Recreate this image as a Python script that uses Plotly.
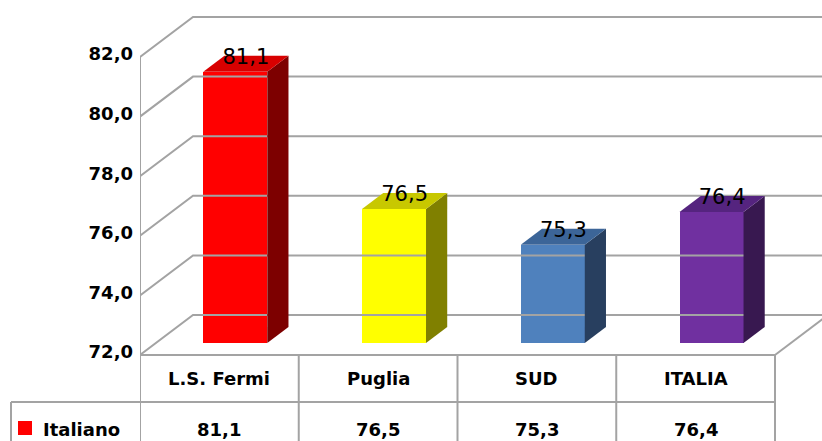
import plotly.graph_objects as go

# ---------------- data ----------------
categories = ["L.S. Fermi", "Puglia", "SUD", "ITALIA"]
values = [81.1, 76.5, 75.3, 76.4]
series_name = "Italiano"
tick_values = [72, 74, 76, 78, 80, 82]
tick_labels = ["72,0", "74,0", "76,0", "78,0", "80,0", "82,0"]

# ---------------- styles ----------------
front_colors = ["#ff0000", "#ffff00", "#4f81bd", "#7030a0"]
side_colors = ["#7d0000", "#808000", "#283f5f", "#381850"]
top_colors = ["#d80000", "#c8c800", "#3c6598", "#55247f"]
grid_color = "#a3a3a3"

W, H = 822, 441
PX_X = 158.75                 # pixels per category
PX_Y = 29.8                   # pixels per value unit
X_LEFT_PX = 140               # front-left wall edge
Y_BASE_PX = 355               # floor front edge
BASE = tick_values[0]
DX = 53 / PX_X                # depth vector (x units)
DY = 40 / PX_Y                # depth vector (value units)
D0, D1 = 0.3, 0.7             # bar depth start / end
BAR_W = 64 / PX_X


def fmt(v):
    return f"{v:.1f}".replace(".", ",")


def ydata(p):  # pixel row -> value units
    return BASE + (Y_BASE_PX - p) / PX_Y


def xpaper(p):
    return p / W


x_min = -0.5
x_max = -0.5 + (W - X_LEFT_PX) / PX_X
y_min = ydata(H)
y_max = ydata(0)
n = len(categories)

fig = go.Figure()

# back wall + left wall gridlines, floor edges
gx, gy = [], []
for v in tick_values:
    gx += [x_min, x_min + DX, x_max + 1, None]
    gy += [v, v + DY, v + DY, None]
gx += [x_min, x_min, None, n - 0.5, n - 0.5 + DX, None]
gy += [BASE, tick_values[-1], None, BASE, BASE + DY, None]
fig.add_trace(go.Scatter(x=gx, y=gy, mode="lines",
                         line=dict(color=grid_color, width=2),
                         hoverinfo="skip", showlegend=False))

# bars: front faces
xc = [i + D0 * DX for i in range(n)]
fig.add_trace(go.Bar(x=xc, y=[v - BASE for v in values], base=BASE + D0 * DY,
                     width=BAR_W, marker=dict(color=front_colors, line=dict(width=0)),
                     name=series_name, showlegend=False))

# side and top faces
sdx = (D1 - D0) * DX
sdy = (D1 - D0) * DY
for i, v in enumerate(values):
    xl = xc[i] - BAR_W / 2
    xr = xc[i] + BAR_W / 2
    y0 = BASE + D0 * DY
    y1 = v + D0 * DY
    fig.add_trace(go.Scatter(x=[xr, xr + sdx, xr + sdx, xr, xr],
                             y=[y0, y0 + sdy, y1 + sdy, y1, y0],
                             mode="lines", fill="toself", fillcolor=side_colors[i],
                             line=dict(width=0, color=side_colors[i]),
                             hoverinfo="skip", showlegend=False))
    fig.add_trace(go.Scatter(x=[xl, xr, xr + sdx, xl + sdx, xl],
                             y=[y1, y1, y1 + sdy, y1 + sdy, y1],
                             mode="lines", fill="toself", fillcolor=top_colors[i],
                             line=dict(width=0, color=top_colors[i]),
                             hoverinfo="skip", showlegend=False))

# value labels above bars
fig.add_trace(go.Scatter(x=[c + sdx / 2 for c in xc],
                         y=[v + D0 * DY + 13 / PX_Y for v in values],
                         mode="text", text=[fmt(v) for v in values],
                         textposition="middle center",
                         textfont=dict(family="DejaVu Sans", size=21, color="#000000"),
                         hoverinfo="skip", showlegend=False, cliponaxis=False))

# ---------------- data table ----------------
shapes = []
lc = dict(color=grid_color, width=2)
row1_bottom = ydata(402)
for k in range(n + 1):
    shapes.append(dict(type="line", xref="x", yref="y", x0=k - 0.5, x1=k - 0.5,
                       y0=BASE, y1=y_min - 1, line=lc))
shapes.append(dict(type="line", xref="x", yref="y", x0=x_min, x1=n - 0.5,
                   y0=BASE, y1=BASE, line=lc))
shapes.append(dict(type="line", xref="x", yref="y", x0=x_min, x1=n - 0.5,
                   y0=row1_bottom, y1=row1_bottom, line=lc))
shapes.append(dict(type="line", xref="paper", yref="y", x0=xpaper(11), x1=xpaper(X_LEFT_PX),
                   y0=row1_bottom, y1=row1_bottom, line=lc))
shapes.append(dict(type="line", xref="paper", yref="y", x0=xpaper(11), x1=xpaper(11),
                   y0=row1_bottom, y1=y_min - 1, line=lc))
shapes.append(dict(type="rect", xref="paper", yref="y",
                   x0=xpaper(18), x1=xpaper(32), y0=ydata(435), y1=ydata(421),
                   fillcolor=front_colors[0], line=dict(width=0)))

bold = dict(family="DejaVu Sans", size=18, color="#000000", weight="bold")
annotations = []
for i, c in enumerate(categories):
    annotations.append(dict(x=i, y=ydata(378), xref="x", yref="y", text=c,
                            showarrow=False, font=bold, xanchor="center", yanchor="middle"))
    annotations.append(dict(x=i, y=ydata(429), xref="x", yref="y", text=fmt(values[i]),
                            showarrow=False, font=bold, xanchor="center", yanchor="middle"))
annotations.append(dict(x=xpaper(41), y=ydata(429), xref="paper", yref="y", text=series_name,
                        showarrow=False, font=bold, xanchor="left", yanchor="middle"))

fig.update_layout(
    width=W, height=H,
    margin=dict(l=0, r=0, t=0, b=0),
    paper_bgcolor="#ffffff", plot_bgcolor="#ffffff",
    shapes=shapes, annotations=annotations,
    showlegend=False, bargap=0,
    xaxis=dict(domain=[X_LEFT_PX / W, 1], range=[x_min, x_max],
               showgrid=False, zeroline=False, showticklabels=False,
               showline=False, fixedrange=True, automargin=False),
    yaxis=dict(domain=[0, 1], range=[y_min, y_max],
               tickvals=tick_values, ticktext=tick_labels,
               tickfont=dict(family="DejaVu Sans", size=18, color="#000000", weight="bold"),
               ticks="", ticklabelstandoff=6, ticklabelshift=-3, automargin=False,
               showgrid=False, zeroline=False, showline=False, fixedrange=True),
)

fig.write_html("out.html",
               config={"displayModeBar": False},
               post_script="document.body.style.margin='0';"
                           "document.documentElement.style.overflow='hidden';")
